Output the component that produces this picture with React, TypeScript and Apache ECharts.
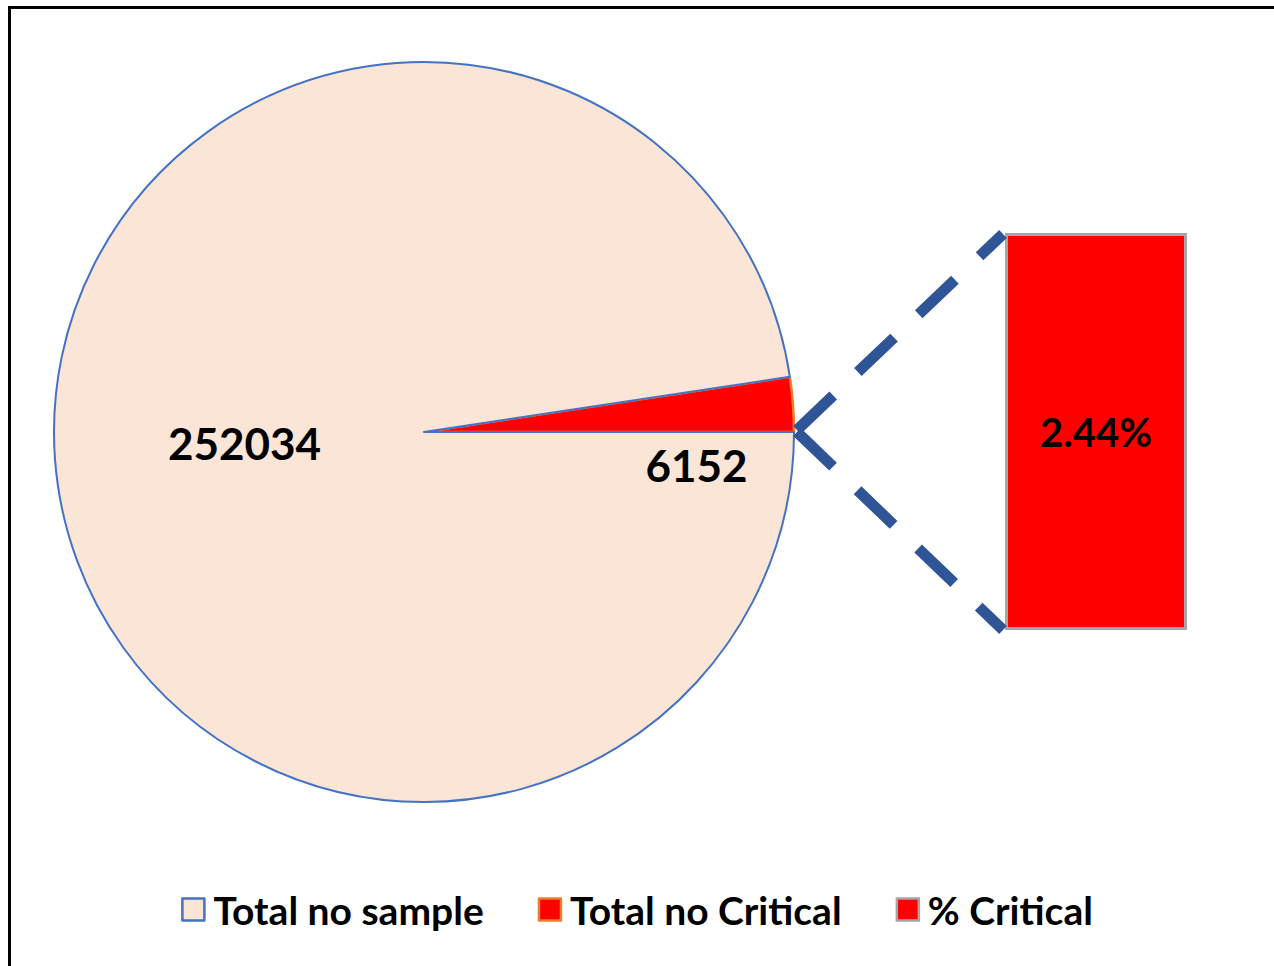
import React, { useEffect, useRef } from "react";
import * as echarts from "echarts";

const pieNames = ["Total no Critical", "Total no sample"];
const pieValues = [6152, 252034];
const pieLabels = ["6152", "252034"];
const barName = "% Critical";
const barValues = [2.44];
const barLabels = ["2.44%"];
const legendNames = ["Total no sample", "Total no Critical", "% Critical"];

const FONT = "Lato";

export default function App() {
  const ref = useRef<HTMLDivElement>(null);
  useEffect(() => {
    if (!ref.current) return;
    const chart = echarts.init(ref.current, null, { renderer: "svg" });
    const pieStyles = [
      { color: "#FF0000", borderColor: "#ED7D31", borderWidth: 2.5 },
      { color: "#FBE5D6", borderColor: "#4472C4", borderWidth: 2 },
    ];
    const pieLabelOffsets = [
      [85, 47],
      [8, -3],
    ];
    const dash = { stroke: "#2F5597", lineWidth: 11, lineDash: [50, 34] };
    chart.setOption({
      animation: false,
      backgroundColor: "#ffffff",
      textStyle: { fontFamily: FONT },
      legend: {
        bottom: 32,
        left: "center",
        itemWidth: 22,
        itemHeight: 22,
        itemGap: 54,
        selectedMode: false,
        textStyle: {
          fontFamily: FONT,
          fontWeight: "bold",
          fontSize: 39,
          color: "#000",
          padding: [0, 0, 0, 4],
        },
        data: [
          {
            name: legendNames[0],
            icon: "rect",
            itemStyle: { color: "#FBE5D6", borderColor: "#4472C4", borderWidth: 2.5 },
          },
          {
            name: legendNames[1],
            icon: "rect",
            itemStyle: { color: "#FF0000", borderColor: "#ED7D31", borderWidth: 2.5 },
          },
          {
            name: legendNames[2],
            icon: "rect",
            itemStyle: { color: "#FF0000", borderColor: "#A5A5A5", borderWidth: 2.5 },
          },
        ],
      },
      grid: { left: 1005, top: 233, width: 182, height: 397 },
      xAxis: {
        type: "category",
        data: [barName],
        show: false,
      },
      yAxis: { type: "value", min: 0, max: barValues[0], show: false },
      graphic: [
        {
          type: "polyline",
          shape: { points: [[9.5, 980], [9.5, 7.5], [1290, 7.5]] },
          style: { stroke: "#000", lineWidth: 3, fill: "none" },
          silent: true,
        },
        {
          type: "line",
          shape: { x1: 797, y1: 430, x2: 1003, y2: 234 },
          style: dash,
          silent: true,
          z: 10,
        },
        {
          type: "line",
          shape: { x1: 797, y1: 432, x2: 1003, y2: 630 },
          style: dash,
          silent: true,
          z: 10,
        },
      ],
      series: [
        {
          type: "pie",
          center: [424, 432],
          radius: 370,
          startAngle: 0,
          clockwise: false,
          avoidLabelOverlap: false,
          emphasis: { disabled: true },
          silent: true,
          label: {
            show: true,
            position: "inside",
            fontFamily: FONT,
            fontWeight: "bold",
            fontSize: 44,
            color: "#000",
          },
          labelLine: { show: false },
          data: pieNames.map((n, i) => ({
            name: n,
            value: pieValues[i],
            itemStyle: pieStyles[i],
            label: { formatter: pieLabels[i], offset: pieLabelOffsets[i] },
          })),
        },
        {
          type: "bar",
          name: barName,
          barWidth: "100%",
          silent: true,
          itemStyle: { color: "#FF0000", borderColor: "#A5A5A5", borderWidth: 3 },
          label: {
            show: true,
            position: "inside",
            formatter: () => barLabels[0],
            fontFamily: FONT,
            fontWeight: "bold",
            fontSize: 40,
            color: "#000",
          },
          data: barValues,
        },
      ],
    });
    return () => chart.dispose();
  }, []);
  return (
    <div
      ref={ref}
      style={{ position: "fixed", left: 0, top: 0, width: 1274, height: 966 }}
    />
  );
}
